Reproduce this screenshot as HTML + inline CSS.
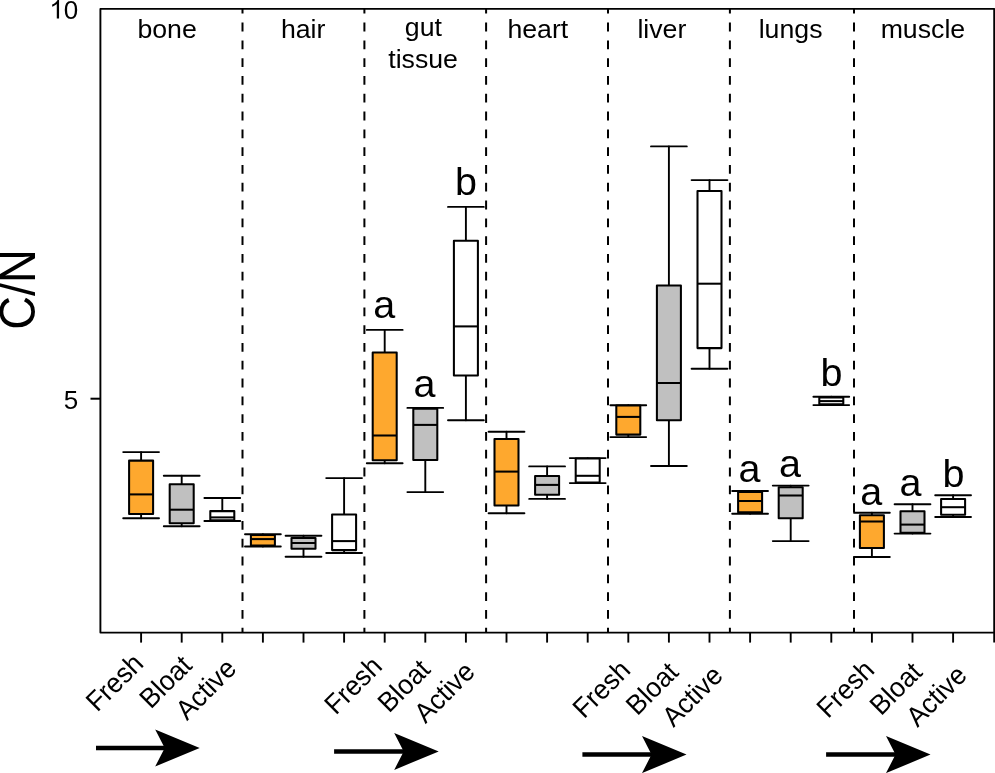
<!DOCTYPE html><html><head><meta charset="utf-8"><style>html,body{margin:0;padding:0;background:#fff;overflow:hidden;}svg{display:block;will-change:transform;}text{font-family:"Liberation Sans", sans-serif;fill:#000;}</style></head><body>
<svg width="995" height="773" viewBox="0 0 995 773">
<line x1="242.5" y1="8.9" x2="242.5" y2="632.6" stroke="#000" stroke-width="2" stroke-dasharray="8.8 9" stroke-dashoffset="4.1"/>
<line x1="364.4" y1="8.9" x2="364.4" y2="632.6" stroke="#000" stroke-width="2" stroke-dasharray="8.8 9" stroke-dashoffset="4.1"/>
<line x1="486.1" y1="8.9" x2="486.1" y2="632.6" stroke="#000" stroke-width="2" stroke-dasharray="8.8 9" stroke-dashoffset="4.1"/>
<line x1="608.0" y1="8.9" x2="608.0" y2="632.6" stroke="#000" stroke-width="2" stroke-dasharray="8.8 9" stroke-dashoffset="4.1"/>
<line x1="729.9" y1="8.9" x2="729.9" y2="632.6" stroke="#000" stroke-width="2" stroke-dasharray="8.8 9" stroke-dashoffset="4.1"/>
<line x1="854.0" y1="8.9" x2="854.0" y2="632.6" stroke="#000" stroke-width="2" stroke-dasharray="8.8 9" stroke-dashoffset="4.1"/>
<g stroke="#000" stroke-width="1.90" fill="none" stroke-linecap="round" stroke-linejoin="round"><line x1="141.10" y1="452.10" x2="141.10" y2="460.60"/><line x1="141.10" y1="513.90" x2="141.10" y2="518.20"/><line x1="123.20" y1="452.10" x2="159.00" y2="452.10"/><line x1="123.20" y1="518.20" x2="159.00" y2="518.20"/><rect x="129.10" y="460.60" width="24.00" height="53.30" fill="#FEA82E" stroke-width="2.05"/><line x1="129.10" y1="494.40" x2="153.10" y2="494.40" stroke-width="2.05" stroke-linecap="butt"/></g>
<g stroke="#000" stroke-width="1.90" fill="none" stroke-linecap="round" stroke-linejoin="round"><line x1="181.70" y1="475.80" x2="181.70" y2="484.30"/><line x1="181.70" y1="523.20" x2="181.70" y2="526.30"/><line x1="163.80" y1="475.80" x2="199.60" y2="475.80"/><line x1="163.80" y1="526.30" x2="199.60" y2="526.30"/><rect x="169.70" y="484.30" width="24.00" height="38.90" fill="#C0C0C0" stroke-width="2.05"/><line x1="169.70" y1="509.70" x2="193.70" y2="509.70" stroke-width="2.05" stroke-linecap="butt"/></g>
<g stroke="#000" stroke-width="1.90" fill="none" stroke-linecap="round" stroke-linejoin="round"><line x1="222.30" y1="498.00" x2="222.30" y2="511.10"/><line x1="222.30" y1="520.30" x2="222.30" y2="521.00"/><line x1="204.40" y1="498.00" x2="240.20" y2="498.00"/><line x1="204.40" y1="521.00" x2="240.20" y2="521.00"/><rect x="210.30" y="511.10" width="24.00" height="9.20" fill="white" stroke-width="2.05"/><line x1="210.30" y1="517.40" x2="234.30" y2="517.40" stroke-width="2.05" stroke-linecap="butt"/></g>
<g stroke="#000" stroke-width="1.90" fill="none" stroke-linecap="round" stroke-linejoin="round"><line x1="262.90" y1="534.30" x2="262.90" y2="534.90"/><line x1="262.90" y1="545.50" x2="262.90" y2="546.50"/><line x1="245.00" y1="534.30" x2="280.80" y2="534.30"/><line x1="245.00" y1="546.50" x2="280.80" y2="546.50"/><rect x="250.90" y="534.90" width="24.00" height="10.60" fill="#FEA82E" stroke-width="2.05"/><line x1="250.90" y1="539.10" x2="274.90" y2="539.10" stroke-width="2.05" stroke-linecap="butt"/></g>
<g stroke="#000" stroke-width="1.90" fill="none" stroke-linecap="round" stroke-linejoin="round"><line x1="303.50" y1="535.70" x2="303.50" y2="537.90"/><line x1="303.50" y1="548.80" x2="303.50" y2="556.80"/><line x1="285.60" y1="535.70" x2="321.40" y2="535.70"/><line x1="285.60" y1="556.80" x2="321.40" y2="556.80"/><rect x="291.50" y="537.90" width="24.00" height="10.90" fill="#C0C0C0" stroke-width="2.05"/><line x1="291.50" y1="543.00" x2="315.50" y2="543.00" stroke-width="2.05" stroke-linecap="butt"/></g>
<g stroke="#000" stroke-width="1.90" fill="none" stroke-linecap="round" stroke-linejoin="round"><line x1="344.10" y1="478.10" x2="344.10" y2="514.50"/><line x1="344.10" y1="550.10" x2="344.10" y2="553.00"/><line x1="326.20" y1="478.10" x2="362.00" y2="478.10"/><line x1="326.20" y1="553.00" x2="362.00" y2="553.00"/><rect x="332.10" y="514.50" width="24.00" height="35.60" fill="white" stroke-width="2.05"/><line x1="332.10" y1="541.10" x2="356.10" y2="541.10" stroke-width="2.05" stroke-linecap="butt"/></g>
<g stroke="#000" stroke-width="1.90" fill="none" stroke-linecap="round" stroke-linejoin="round"><line x1="384.70" y1="329.90" x2="384.70" y2="352.50"/><line x1="384.70" y1="460.20" x2="384.70" y2="463.30"/><line x1="366.80" y1="329.90" x2="402.60" y2="329.90"/><line x1="366.80" y1="463.30" x2="402.60" y2="463.30"/><rect x="372.70" y="352.50" width="24.00" height="107.70" fill="#FEA82E" stroke-width="2.05"/><line x1="372.70" y1="435.50" x2="396.70" y2="435.50" stroke-width="2.05" stroke-linecap="butt"/></g>
<g stroke="#000" stroke-width="1.90" fill="none" stroke-linecap="round" stroke-linejoin="round"><line x1="425.30" y1="407.90" x2="425.30" y2="408.60"/><line x1="425.30" y1="460.00" x2="425.30" y2="492.10"/><line x1="407.40" y1="407.90" x2="443.20" y2="407.90"/><line x1="407.40" y1="492.10" x2="443.20" y2="492.10"/><rect x="413.30" y="408.60" width="24.00" height="51.40" fill="#C0C0C0" stroke-width="2.05"/><line x1="413.30" y1="424.90" x2="437.30" y2="424.90" stroke-width="2.05" stroke-linecap="butt"/></g>
<g stroke="#000" stroke-width="1.90" fill="none" stroke-linecap="round" stroke-linejoin="round"><line x1="465.90" y1="206.90" x2="465.90" y2="240.70"/><line x1="465.90" y1="375.40" x2="465.90" y2="420.30"/><line x1="448.00" y1="206.90" x2="483.80" y2="206.90"/><line x1="448.00" y1="420.30" x2="483.80" y2="420.30"/><rect x="453.90" y="240.70" width="24.00" height="134.70" fill="white" stroke-width="2.05"/><line x1="453.90" y1="326.40" x2="477.90" y2="326.40" stroke-width="2.05" stroke-linecap="butt"/></g>
<g stroke="#000" stroke-width="1.90" fill="none" stroke-linecap="round" stroke-linejoin="round"><line x1="506.50" y1="431.80" x2="506.50" y2="438.90"/><line x1="506.50" y1="505.60" x2="506.50" y2="513.20"/><line x1="488.60" y1="431.80" x2="524.40" y2="431.80"/><line x1="488.60" y1="513.20" x2="524.40" y2="513.20"/><rect x="494.50" y="438.90" width="24.00" height="66.70" fill="#FEA82E" stroke-width="2.05"/><line x1="494.50" y1="471.60" x2="518.50" y2="471.60" stroke-width="2.05" stroke-linecap="butt"/></g>
<g stroke="#000" stroke-width="1.90" fill="none" stroke-linecap="round" stroke-linejoin="round"><line x1="547.10" y1="466.40" x2="547.10" y2="475.90"/><line x1="547.10" y1="494.70" x2="547.10" y2="498.90"/><line x1="529.20" y1="466.40" x2="565.00" y2="466.40"/><line x1="529.20" y1="498.90" x2="565.00" y2="498.90"/><rect x="535.10" y="475.90" width="24.00" height="18.80" fill="#C0C0C0" stroke-width="2.05"/><line x1="535.10" y1="484.90" x2="559.10" y2="484.90" stroke-width="2.05" stroke-linecap="butt"/></g>
<g stroke="#000" stroke-width="1.90" fill="none" stroke-linecap="round" stroke-linejoin="round"><line x1="587.70" y1="458.10" x2="587.70" y2="458.50"/><line x1="587.70" y1="482.50" x2="587.70" y2="483.10"/><line x1="569.80" y1="458.10" x2="605.60" y2="458.10"/><line x1="569.80" y1="483.10" x2="605.60" y2="483.10"/><rect x="575.70" y="458.50" width="24.00" height="24.00" fill="white" stroke-width="2.05"/><line x1="575.70" y1="475.80" x2="599.70" y2="475.80" stroke-width="2.05" stroke-linecap="butt"/></g>
<g stroke="#000" stroke-width="1.90" fill="none" stroke-linecap="round" stroke-linejoin="round"><line x1="628.30" y1="405.30" x2="628.30" y2="405.50"/><line x1="628.30" y1="434.60" x2="628.30" y2="437.10"/><line x1="610.40" y1="405.30" x2="646.20" y2="405.30"/><line x1="610.40" y1="437.10" x2="646.20" y2="437.10"/><rect x="616.30" y="405.50" width="24.00" height="29.10" fill="#FEA82E" stroke-width="2.05"/><line x1="616.30" y1="416.90" x2="640.30" y2="416.90" stroke-width="2.05" stroke-linecap="butt"/></g>
<g stroke="#000" stroke-width="1.90" fill="none" stroke-linecap="round" stroke-linejoin="round"><line x1="668.90" y1="146.40" x2="668.90" y2="285.50"/><line x1="668.90" y1="420.30" x2="668.90" y2="466.00"/><line x1="651.00" y1="146.40" x2="686.80" y2="146.40"/><line x1="651.00" y1="466.00" x2="686.80" y2="466.00"/><rect x="656.90" y="285.50" width="24.00" height="134.80" fill="#C0C0C0" stroke-width="2.05"/><line x1="656.90" y1="383.00" x2="680.90" y2="383.00" stroke-width="2.05" stroke-linecap="butt"/></g>
<g stroke="#000" stroke-width="1.90" fill="none" stroke-linecap="round" stroke-linejoin="round"><line x1="709.50" y1="180.10" x2="709.50" y2="191.00"/><line x1="709.50" y1="348.10" x2="709.50" y2="368.80"/><line x1="691.60" y1="180.10" x2="727.40" y2="180.10"/><line x1="691.60" y1="368.80" x2="727.40" y2="368.80"/><rect x="697.50" y="191.00" width="24.00" height="157.10" fill="white" stroke-width="2.05"/><line x1="697.50" y1="283.70" x2="721.50" y2="283.70" stroke-width="2.05" stroke-linecap="butt"/></g>
<g stroke="#000" stroke-width="1.90" fill="none" stroke-linecap="round" stroke-linejoin="round"><line x1="750.10" y1="491.00" x2="750.10" y2="492.00"/><line x1="750.10" y1="512.30" x2="750.10" y2="513.80"/><line x1="732.20" y1="491.00" x2="768.00" y2="491.00"/><line x1="732.20" y1="513.80" x2="768.00" y2="513.80"/><rect x="738.10" y="492.00" width="24.00" height="20.30" fill="#FEA82E" stroke-width="2.05"/><line x1="738.10" y1="501.00" x2="762.10" y2="501.00" stroke-width="2.05" stroke-linecap="butt"/></g>
<g stroke="#000" stroke-width="1.90" fill="none" stroke-linecap="round" stroke-linejoin="round"><line x1="790.70" y1="485.60" x2="790.70" y2="487.30"/><line x1="790.70" y1="518.30" x2="790.70" y2="541.10"/><line x1="772.80" y1="485.60" x2="808.60" y2="485.60"/><line x1="772.80" y1="541.10" x2="808.60" y2="541.10"/><rect x="778.70" y="487.30" width="24.00" height="31.00" fill="#C0C0C0" stroke-width="2.05"/><line x1="778.70" y1="495.50" x2="802.70" y2="495.50" stroke-width="2.05" stroke-linecap="butt"/></g>
<g stroke="#000" stroke-width="1.90" fill="none" stroke-linecap="round" stroke-linejoin="round"><line x1="831.30" y1="396.80" x2="831.30" y2="397.50"/><line x1="831.30" y1="404.30" x2="831.30" y2="405.10"/><line x1="813.40" y1="396.80" x2="849.20" y2="396.80"/><line x1="813.40" y1="405.10" x2="849.20" y2="405.10"/><rect x="819.30" y="397.50" width="24.00" height="6.80" fill="white" stroke-width="2.05"/><line x1="819.30" y1="401.10" x2="843.30" y2="401.10" stroke-width="2.05" stroke-linecap="butt"/></g>
<g stroke="#000" stroke-width="1.90" fill="none" stroke-linecap="round" stroke-linejoin="round"><line x1="871.90" y1="512.70" x2="871.90" y2="515.30"/><line x1="871.90" y1="548.00" x2="871.90" y2="557.00"/><line x1="854.00" y1="512.70" x2="889.80" y2="512.70"/><line x1="854.00" y1="557.00" x2="889.80" y2="557.00"/><rect x="859.90" y="515.30" width="24.00" height="32.70" fill="#FEA82E" stroke-width="2.05"/><line x1="859.90" y1="521.50" x2="883.90" y2="521.50" stroke-width="2.05" stroke-linecap="butt"/></g>
<g stroke="#000" stroke-width="1.90" fill="none" stroke-linecap="round" stroke-linejoin="round"><line x1="912.50" y1="504.20" x2="912.50" y2="511.20"/><line x1="912.50" y1="532.80" x2="912.50" y2="533.60"/><line x1="894.60" y1="504.20" x2="930.40" y2="504.20"/><line x1="894.60" y1="533.60" x2="930.40" y2="533.60"/><rect x="900.50" y="511.20" width="24.00" height="21.60" fill="#C0C0C0" stroke-width="2.05"/><line x1="900.50" y1="524.60" x2="924.50" y2="524.60" stroke-width="2.05" stroke-linecap="butt"/></g>
<g stroke="#000" stroke-width="1.90" fill="none" stroke-linecap="round" stroke-linejoin="round"><line x1="953.10" y1="495.20" x2="953.10" y2="499.00"/><line x1="953.10" y1="514.70" x2="953.10" y2="517.00"/><line x1="935.20" y1="495.20" x2="971.00" y2="495.20"/><line x1="935.20" y1="517.00" x2="971.00" y2="517.00"/><rect x="941.10" y="499.00" width="24.00" height="15.70" fill="white" stroke-width="2.05"/><line x1="941.10" y1="507.20" x2="965.10" y2="507.20" stroke-width="2.05" stroke-linecap="butt"/></g>
<rect x="100.4" y="8.9" width="893.8" height="623.7" fill="none" stroke="#000" stroke-width="1.9" stroke-linejoin="round"/>
<line x1="90.5" y1="398.7" x2="100.4" y2="398.7" stroke="#000" stroke-width="2"/>
<line x1="141.10" y1="632.6" x2="141.10" y2="642.6" stroke="#000" stroke-width="1.9"/>
<line x1="181.70" y1="632.6" x2="181.70" y2="642.6" stroke="#000" stroke-width="1.9"/>
<line x1="222.30" y1="632.6" x2="222.30" y2="642.6" stroke="#000" stroke-width="1.9"/>
<line x1="262.90" y1="632.6" x2="262.90" y2="642.6" stroke="#000" stroke-width="1.9"/>
<line x1="303.50" y1="632.6" x2="303.50" y2="642.6" stroke="#000" stroke-width="1.9"/>
<line x1="344.10" y1="632.6" x2="344.10" y2="642.6" stroke="#000" stroke-width="1.9"/>
<line x1="384.70" y1="632.6" x2="384.70" y2="642.6" stroke="#000" stroke-width="1.9"/>
<line x1="425.30" y1="632.6" x2="425.30" y2="642.6" stroke="#000" stroke-width="1.9"/>
<line x1="465.90" y1="632.6" x2="465.90" y2="642.6" stroke="#000" stroke-width="1.9"/>
<line x1="506.50" y1="632.6" x2="506.50" y2="642.6" stroke="#000" stroke-width="1.9"/>
<line x1="547.10" y1="632.6" x2="547.10" y2="642.6" stroke="#000" stroke-width="1.9"/>
<line x1="587.70" y1="632.6" x2="587.70" y2="642.6" stroke="#000" stroke-width="1.9"/>
<line x1="628.30" y1="632.6" x2="628.30" y2="642.6" stroke="#000" stroke-width="1.9"/>
<line x1="668.90" y1="632.6" x2="668.90" y2="642.6" stroke="#000" stroke-width="1.9"/>
<line x1="709.50" y1="632.6" x2="709.50" y2="642.6" stroke="#000" stroke-width="1.9"/>
<line x1="750.10" y1="632.6" x2="750.10" y2="642.6" stroke="#000" stroke-width="1.9"/>
<line x1="790.70" y1="632.6" x2="790.70" y2="642.6" stroke="#000" stroke-width="1.9"/>
<line x1="831.30" y1="632.6" x2="831.30" y2="642.6" stroke="#000" stroke-width="1.9"/>
<line x1="871.90" y1="632.6" x2="871.90" y2="642.6" stroke="#000" stroke-width="1.9"/>
<line x1="912.50" y1="632.6" x2="912.50" y2="642.6" stroke="#000" stroke-width="1.9"/>
<line x1="953.10" y1="632.6" x2="953.10" y2="642.6" stroke="#000" stroke-width="1.9"/>
<line x1="994.20" y1="632.6" x2="994.20" y2="642.6" stroke="#000" stroke-width="1.9"/>
<path d="M59.07 18.60 L56.79 18.60 L56.79 4.04 Q55.96 4.83 54.62 5.61 Q53.27 6.40 52.19 6.79 L52.19 4.58 Q54.11 3.68 55.55 2.40 Q56.98 1.12 57.58 -0.09 L59.07 -0.09 Z" fill="#000"/>
<text x="78.3" y="18.6" font-size="26" text-anchor="end">0</text>
<text x="78.3" y="408.6" font-size="26" text-anchor="end">5</text>
<text transform="translate(34.5,329.8) rotate(-90) scale(1,1.05)" font-size="46.9">C/N</text>
<text x="167.1" y="38.1" font-size="26.7" text-anchor="middle">bone</text>
<text x="303.2" y="37.8" font-size="26.7" text-anchor="middle">hair</text>
<text x="423.4" y="35.9" font-size="26.7" text-anchor="middle">gut</text>
<text x="423.1" y="67.8" font-size="26.7" text-anchor="middle">tissue</text>
<text x="537.8" y="37.9" font-size="26.7" text-anchor="middle">heart</text>
<text x="661.9" y="37.8" font-size="26.7" text-anchor="middle">liver</text>
<text x="790.6" y="38.0" font-size="26.7" text-anchor="middle">lungs</text>
<text x="922.9" y="37.6" font-size="26.7" text-anchor="middle">muscle</text>
<text x="384.2" y="318.2" font-size="39.5" text-anchor="middle">a</text>
<text x="424.5" y="397.3" font-size="39.5" text-anchor="middle">a</text>
<text x="466.0" y="194.9" font-size="39.5" text-anchor="middle">b</text>
<text x="749.5" y="482.2" font-size="39.5" text-anchor="middle">a</text>
<text x="789.9" y="476.8" font-size="39.5" text-anchor="middle">a</text>
<text x="831.5" y="385.5" font-size="39.5" text-anchor="middle">b</text>
<text x="871.2" y="505.1" font-size="39.5" text-anchor="middle">a</text>
<text x="910.6" y="495.6" font-size="39.5" text-anchor="middle">a</text>
<text x="953.4" y="486.6" font-size="39.5" text-anchor="middle">b</text>
<text transform="translate(97.17,712.83) rotate(-45) scale(1,1.04)" font-size="26.5">Fresh</text>
<text transform="translate(150.67,709.73) rotate(-45) scale(1,1.04)" font-size="26.5">Bloat</text>
<text transform="translate(186.90,721.20) rotate(-45) scale(1,1.04)" font-size="26.5">Active</text>
<text transform="translate(335.77,715.73) rotate(-45) scale(1,1.04)" font-size="26.5">Fresh</text>
<text transform="translate(389.07,713.63) rotate(-45) scale(1,1.04)" font-size="26.5">Bloat</text>
<text transform="translate(425.40,724.30) rotate(-45) scale(1,1.04)" font-size="26.5">Active</text>
<text transform="translate(584.07,719.53) rotate(-45) scale(1,1.04)" font-size="26.5">Fresh</text>
<text transform="translate(637.17,716.43) rotate(-45) scale(1,1.04)" font-size="26.5">Bloat</text>
<text transform="translate(673.50,728.10) rotate(-45) scale(1,1.04)" font-size="26.5">Active</text>
<text transform="translate(827.97,719.33) rotate(-45) scale(1,1.04)" font-size="26.5">Fresh</text>
<text transform="translate(880.97,716.43) rotate(-45) scale(1,1.04)" font-size="26.5">Bloat</text>
<text transform="translate(917.50,727.90) rotate(-45) scale(1,1.04)" font-size="26.5">Active</text>
<path d="M96.0 745.75 H165.7 V750.25 H96.0 Z" fill="#000"/>
<path d="M199.7 748.0 L155.2 729.5 L164.7 748.0 L155.2 766.5 Z" fill="#000"/>
<path d="M334.1 749.15 H404.7 V753.65 H334.1 Z" fill="#000"/>
<path d="M438.7 751.4 L394.2 732.9 L403.7 751.4 L394.2 769.9 Z" fill="#000"/>
<path d="M582.4 752.35 H652.5 V756.85 H582.4 Z" fill="#000"/>
<path d="M686.5 754.6 L642.0 736.1 L651.5 754.6 L642.0 773.1 Z" fill="#000"/>
<path d="M826.1 752.35 H896.5 V756.85 H826.1 Z" fill="#000"/>
<path d="M930.5 754.6 L886.0 736.1 L895.5 754.6 L886.0 773.1 Z" fill="#000"/>
</svg></body></html>
